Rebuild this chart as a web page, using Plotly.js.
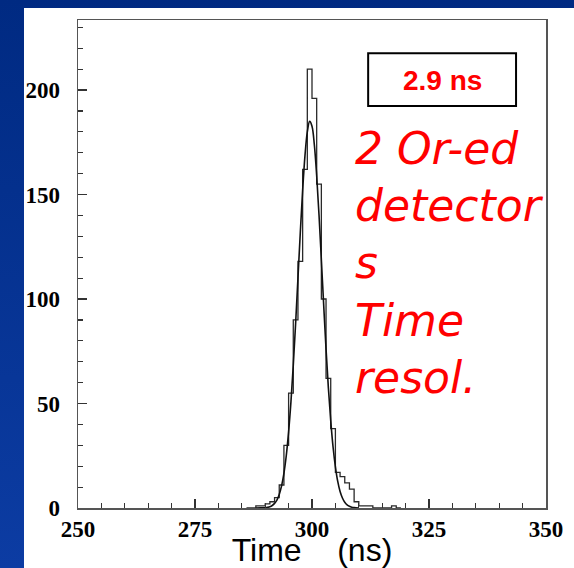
<!DOCTYPE html>
<html>
<head>
<meta charset="utf-8">
<script src="https://cdn.plot.ly/plotly-3.0.1.min.js"></script>
<style>
  html, body { margin: 0; padding: 0; width: 574px; height: 568px; overflow: hidden;
    background: linear-gradient(to bottom, #002a82, #0c3ca3); }
  #chart { position: absolute; left: 24px; top: 8px; width: 550px; height: 560px; background: #fff; }
</style>
</head>
<body>
<div id="chart"></div>
<script>
// Histogram: left edge of each 1 ns bin and its count
const binLeft = [286,287,288,289,290,291,292,293,294,295,296,297,298,299,300,301,302,303,304,305,306,307,308,309,310,311,312,313,314,315,316,317,318];
const counts  = [0,  0,  1,  1,  2,  3,  5, 11, 30, 55, 90,118,162,210,196,155,100, 62, 38, 17, 15, 12,  9,  3,  1,  1,  1,  0,  0,  0,  0,  1,  0];
const binWidth = 1;

// Fitted curve
const fitT = [288,289,290,290.5,291,291.5,292,292.5,293,293.5,294,294.5,295,295.5,296,296.5,297,297.5,298,298.5,299,299.5,300,300.5,301,301.5,302,302.5,303,303.5,304,304.5,305,305.5,306,306.5,307,307.5,308,308.5,309,310];
const fitC = [0,0.05,0.15,0.3,0.6,1.2,2.2,3.8,6.5,10.6,16.6,25,36.4,50.8,68.3,88.3,110,131.8,152,168.6,180,185,182.7,173.8,159,140.2,118.8,97,76,57.5,41.8,29.2,19.7,12.7,7.9,4.8,2.75,1.5,0.8,0.4,0.2,0];

const xTickVals = [250, 275, 300, 325, 350];
const yTickVals = [0, 50, 100, 150, 200];
const boxLabel = "2.9 ns";
const noteLines = ["2 Or-ed", "detector", "s", "Time", "resol."];
const xTitle = "Time\u00a0\u00a0\u00a0\u00a0(ns)";

// build step outline from bins
const hx = [], hy = [];
for (let i = 0; i < binLeft.length; i++) { hx.push(binLeft[i]); hy.push(counts[i]); }
hx.push(binLeft[binLeft.length - 1] + binWidth); hy.push(0);

const traces = [
  { x: hx, y: hy, type: 'scatter', mode: 'lines', line: { shape: 'hv', color: '#2a2a2a', width: 1.3 }, hoverinfo: 'skip' },
  { x: fitT, y: fitC, type: 'scatter', mode: 'lines', line: { shape: 'spline', color: '#111', width: 1.6 }, hoverinfo: 'skip' }
];

const tickFont = { family: '"Liberation Serif", "Times New Roman", serif', size: 23, color: '#000', weight: 'bold' };

const layout = {
  width: 550, height: 560,
  margin: { l: 54, r: 28, t: 12, b: 60 },
  paper_bgcolor: '#ffffff', plot_bgcolor: '#ffffff',
  showlegend: false,
  xaxis: {
    range: [250, 350], tickvals: xTickVals, ticktext: xTickVals.map(String),
    ticks: 'inside', ticklen: 9, tickwidth: 1.3, tickcolor: '#333',
    minor: { dtick: 5, ticks: 'inside', ticklen: 5, tickwidth: 1.2, tickcolor: '#333' },
    showline: true, mirror: true, linecolor: '#555', linewidth: 1.5,
    showgrid: false, zeroline: false, tickfont: tickFont,
    title: { text: xTitle, font: { family: '"Liberation Sans", Arial, sans-serif', size: 32, color: '#000' }, standoff: 5 }
  },
  yaxis: {
    range: [0, 233.5], tickvals: yTickVals, ticktext: yTickVals.map(String),
    ticks: 'inside', ticklen: 9, tickwidth: 1.3, tickcolor: '#333',
    minor: { dtick: 10, ticks: 'inside', ticklen: 5, tickwidth: 1.2, tickcolor: '#333' },
    showline: true, mirror: true, linecolor: '#555', linewidth: 1.5,
    showgrid: false, zeroline: false, tickfont: tickFont, ticklabelstandoff: 12
  },
  shapes: [
    { type: 'rect', xref: 'paper', yref: 'paper', x0: 0.620, x1: 0.936, y0: 0.824, y1: 0.932,
      line: { color: '#000', width: 2 }, fillcolor: 'rgba(0,0,0,0)' }
  ],
  annotations: [
    { xref: 'paper', yref: 'paper', x: 0.778, y: 0.877, xanchor: 'center', yanchor: 'middle', showarrow: false,
      text: boxLabel, font: { family: '"Liberation Sans", Arial, sans-serif', size: 28, color: '#ff0000', weight: 'bold' } },
    { xref: 'paper', yref: 'paper', x: 0.588, y: 0.502, xanchor: 'left', yanchor: 'middle', align: 'left', showarrow: false,
      text: noteLines.join('<br>'), font: { family: '"DejaVu Sans", Verdana, sans-serif', size: 44, color: '#ff0000', style: 'italic' } }
  ]
};

Plotly.newPlot('chart', traces, layout, { displayModeBar: false, staticPlot: true });
</script>
</body>
</html>
